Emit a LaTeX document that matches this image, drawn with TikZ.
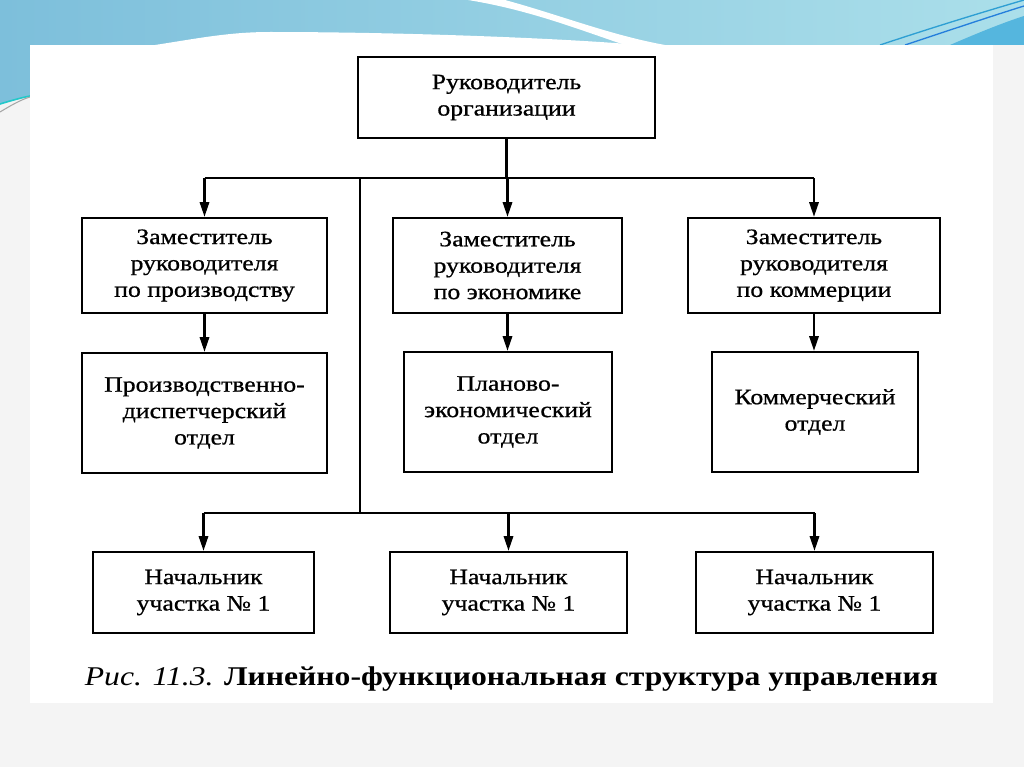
\documentclass[tikz,border=0pt]{standalone}
\usepackage{fontspec}
\setmainfont{Liberation Serif}[FakeStretch=1.17]
\newfontfamily\boxfont{Liberation Serif}[FakeStretch=1.17, FakeBold=0.7]
\usepackage{xcolor}
\usetikzlibrary{arrows.meta}
\definecolor{skyA}{HTML}{7DBFDB}
\definecolor{skyB}{HTML}{ABDFEA}
\definecolor{skyLine}{HTML}{2E9FD3}
\definecolor{skyWedge}{HTML}{55B6DE}
\definecolor{tealLine}{HTML}{22C9C9}
\definecolor{pageGrey}{HTML}{F4F4F4}

\tikzset{
  box/.style={draw, line width=1.8pt, align=center, inner sep=2pt, font=\boxfont\fontsize{16.5}{19.8}\selectfont},
  wire/.style={line width=1.6pt},
  arrow/.style={wire, -{Triangle[length=11pt, width=7pt]}}
}

\begin{document}
\begin{tikzpicture}[x=0.75pt,y=0.75pt,yscale=-1,xscale=1]
    \useasboundingbox (0,0) rectangle (1024,767);

    %Shape: Rectangle [slide]
    \fill[pageGrey] (0,0) rectangle (1024,767);
    %Shape: Wave [top band]
    \shade[left color=skyA, right color=skyB] (0,0) -- (1024,0) -- (1024,45) -- (30,45) -- (30,96) -- (0,104) -- cycle;
    %Shape: Wave [white crest]
    \fill[white] (155,45) .. controls (200,38) and (230,32) .. (270,32) .. controls (400,32) and (560,38) .. (640,45) -- cycle;
    %Shape: Wave [white swoosh]
    \fill[white] (468,0) -- (505,0) .. controls (560,15) and (610,35) .. (665,45) -- (625,45) .. controls (580,30) and (530,10) .. (468,0) -- cycle;
    %Shape: Wave [right wedge]
    \fill[skyWedge] (950,45) .. controls (980,32) and (1005,22) .. (1024,16) -- (1024,45) -- cycle;
    %Curve Lines
    \draw[skyLine, line width=1pt] (880,45) .. controls (940,25) and (990,10) .. (1024,0);
    \draw[skyLine!80!blue, line width=1pt] (905,45) .. controls (950,30) and (995,15) .. (1024,6);
    \draw[tealLine, line width=1.2pt] (0,104) .. controls (10,101) and (20,98) .. (30,96);
    \draw[gray!70, line width=0.8pt] (0,112) .. controls (10,106) and (20,100) .. (30,97);
    %Shape: Rectangle [page]
    \fill[white] (30,45) rectangle (993,703);

    % Text Node
    \node[box, minimum width=222.75pt, minimum height=60.75pt] (head) at (506.5,97.5) {Руководитель\\организации};
    % Text Node
    \node[box, minimum width=183.75pt, minimum height=71.25pt] (dep1) at (204.5,265.5) {Заместитель\\руководителя\\по производству};
    \node[box, minimum width=171.75pt, minimum height=71.25pt] (dep2) at (507.5,265.5) {Заместитель\\руководителя\\по экономике};
    \node[box, minimum width=189pt, minimum height=71.25pt] (dep3) at (814,265.5) {Заместитель\\руководителя\\по коммерции};
    % Text Node
    \node[box, minimum width=183.75pt, minimum height=90pt] (otd1) at (204.5,413) {Производственно-\\диспетчерский\\отдел};
    \node[box, minimum width=156pt, minimum height=90pt] (otd2) at (508,412) {Планово-\\экономический\\отдел};
    \node[box, minimum width=154.5pt, minimum height=90pt] (otd3) at (815,412) {Коммерческий\\отдел};
    % Text Node
    \node[box, minimum width=165.75pt, minimum height=60.75pt] (nach1) at (203.5,592.5) {Начальник\\участка № 1};
    \node[box, minimum width=177.75pt, minimum height=60.75pt] (nach2) at (508.5,592.5) {Начальник\\участка № 1};
    \node[box, minimum width=177.75pt, minimum height=60.75pt] (nach3) at (814.5,592.5) {Начальник\\участка № 1};
    % Text Node
    \node[font=\fontsize{20.3}{22}\selectfont] (caption) at (511.5,679) {\textit{Рис. 11.3.} \textbf{Линейно-функциональная структура управления}};

    % Bus points
    \coordinate (b1) at (360,178);
    \coordinate (b2) at (360,513);

    %Straight Lines
    \draw[wire] (head.south) -- (head.south |- b1);
    \draw[wire] (dep1.north |- b1) -- (dep3.north |- b1);
    \draw[wire] (b1) -- (b2);
    \draw[wire] (nach1.north |- b2) -- (nach3.north |- b2);
    \foreach \i in {1,2,3}{
      \draw[arrow] (dep\i.north |- b1) -- (dep\i.north);
      \draw[arrow] (dep\i.south) -- (dep\i.south |- otd\i.north);
      \draw[arrow] (nach\i.north |- b2) -- (nach\i.north);
    }

\end{tikzpicture}
\end{document}
